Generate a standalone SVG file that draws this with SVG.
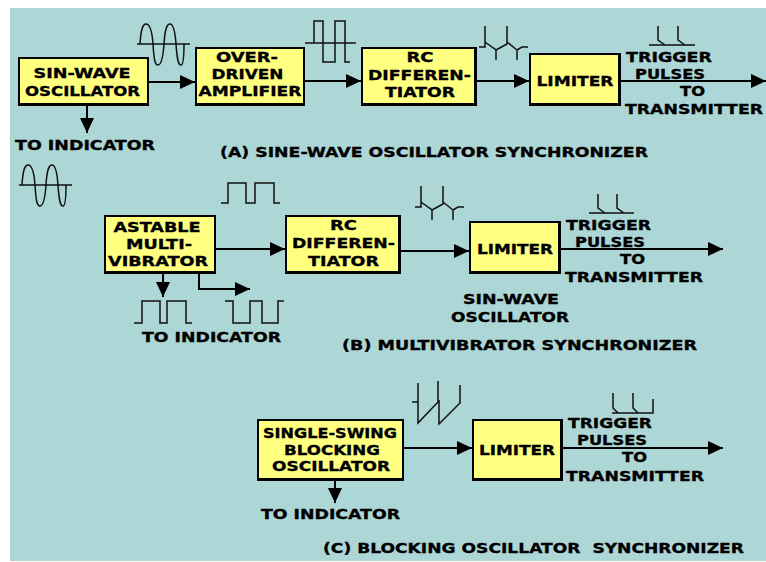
<svg xmlns="http://www.w3.org/2000/svg" width="766" height="562" viewBox="0 0 766 562">
<style>
.t{font-family:"DejaVu Sans","Liberation Sans",sans-serif;font-weight:bold;font-size:14.5px;fill:#000;stroke:#000;stroke-width:.35;text-anchor:middle;white-space:pre}
.b{fill:#ffff80;stroke:#000;stroke-width:2}
.s{fill:#000}
.w{fill:none;stroke:#111;stroke-width:1.5}
.c{fill:none;stroke:#000;stroke-width:2}
</style>
<defs>
<marker id="ah" markerUnits="userSpaceOnUse" markerWidth="16" markerHeight="14" refX="15" refY="7" orient="auto"><path d="M0 0L15 7L0 14Z" fill="#000"/></marker>
<g id="sine"><path class="w" d="M-26 0H27"/><path class="w" d="M-23 0C-22 -16 -20 -20 -17 -20C-13 -20 -11 -14 -10 0C-9 16 -8 21 -5 21C-2 21 0 14 1 0C2 -16 4 -20 7 -20C10 -20 12 -14 13 0C14 14 15 21 18 21C20 21 21 16 21 0"/></g>
<g id="spk"><path class="w" d="M479 47H485V26M485 42L496 50V60M496 50L507 44V26M507 42L517 50V60M517 50L522 47H528"/></g>
</defs>
<rect width="766" height="562" fill="#fff"/>
<rect x="10" y="8" width="756" height="553" fill="#add6d6"/>
<g id="connectors">
<path class="c" marker-end="url(#ah)" d="M149 82H195"/>
<path class="c" marker-end="url(#ah)" d="M305 81H361"/>
<path class="c" marker-end="url(#ah)" d="M476 81H529"/>
<path class="c" marker-end="url(#ah)" d="M620 81H766"/>
<path class="c" marker-end="url(#ah)" d="M87 105V133"/>
<path class="c" marker-end="url(#ah)" d="M216 249H285"/>
<path class="c" marker-end="url(#ah)" d="M400 251H469"/>
<path class="c" marker-end="url(#ah)" d="M558 249H723"/>
<path class="c" marker-end="url(#ah)" d="M163 274V297"/>
<path class="c" marker-end="url(#ah)" d="M199 274V289H250"/>
<path class="c" marker-end="url(#ah)" d="M403 448H472"/>
<path class="c" marker-end="url(#ah)" d="M562 448H723"/>
<path class="c" marker-end="url(#ah)" d="M335 480V503"/>
</g>
<g id="wave-a1"><use href="#sine" x="163" y="44"/></g>
<g id="wave-a2"><path class="w" d="M305 43H356M314 43V21H323V62H335V21H345V62H350"/></g>
<g id="wave-a3"><use href="#spk"/></g>
<g id="wave-a4"><path class="w" d="M649 45H695M658 26V40L665 45M678 26V40L685 45"/></g>
<g id="wave-b0"><use href="#sine" x="45" y="185"/></g>
<g id="wave-b1"><path class="w" d="M221 203H228V183H246V203H255V183H274V203H280"/></g>
<g id="wave-b2"><use href="#spk" x="-64" y="160"/></g>
<g id="wave-b3"><path class="w" d="M589 213H634M598 194V208L605 213M617 194V208L624 213"/></g>
<g id="wave-b4"><path class="w" d="M134 323H142V301H160V323H167V301H186V323H192"/></g>
<g id="wave-b5"><path class="w" d="M225 301H233V323H250V301H262V323H278V301H284"/></g>
<g id="wave-c1"><path class="w" d="M412 402H418V383M418 402V423L438 402V381M439 400V424L460 403V385"/></g>
<g id="wave-c2"><path class="w" d="M612 413H653V399M613 393V408L618 413M633 393V408L638 413"/></g>
<g id="n1"><rect class="b" x="19" y="58" width="129" height="46"/><path class="s" d="M18 103H149V106H18Z"/><text class="t" x="82" y="78" textLength="97" lengthAdjust="spacingAndGlyphs">SIN-WAVE</text><text class="t" x="82.500" y="96" textLength="115" lengthAdjust="spacingAndGlyphs">OSCILLATOR</text></g>
<g id="n2"><rect class="b" x="196" y="48" width="108" height="56"/><path class="s" d="M195 103H305V106H195Z"/><text class="t" x="247" y="62" textLength="62" lengthAdjust="spacingAndGlyphs">OVER-</text><text class="t" x="247.500" y="79" textLength="72" lengthAdjust="spacingAndGlyphs">DRIVEN</text><text class="t" x="250" y="96" textLength="103" lengthAdjust="spacingAndGlyphs">AMPLIFIER</text></g>
<g id="n3"><rect class="b" x="362" y="48" width="114" height="56"/><path class="s" d="M361 103H476V106H361ZM474 47H477V106H474Z"/><text class="t" x="420" y="62" textLength="27" lengthAdjust="spacingAndGlyphs">RC</text><text class="t" x="419.500" y="79.500" textLength="103" lengthAdjust="spacingAndGlyphs">DIFFEREN-</text><text class="t" x="420" y="97" textLength="70" lengthAdjust="spacingAndGlyphs">TIATOR</text></g>
<g id="n4"><rect class="b" x="530" y="54" width="89" height="50"/><path class="s" d="M529 103H620V106H529ZM618 53H621V106H618Z"/><text class="t" x="575" y="86" textLength="77" lengthAdjust="spacingAndGlyphs">LIMITER</text></g>
<g id="n5"><rect class="b" x="105" y="216" width="110" height="57"/><path class="s" d="M104 271H216V274H104Z"/><text class="t" x="157" y="232" textLength="87" lengthAdjust="spacingAndGlyphs">ASTABLE</text><text class="t" x="159" y="249" textLength="66" lengthAdjust="spacingAndGlyphs">MULTI-</text><text class="t" x="158" y="266" textLength="100" lengthAdjust="spacingAndGlyphs">VIBRATOR</text></g>
<g id="n6"><rect class="b" x="286" y="216" width="114" height="57"/><path class="s" d="M285 271H400V274H285ZM398 215H401V274H398Z"/><text class="t" x="343.500" y="230" textLength="27" lengthAdjust="spacingAndGlyphs">RC</text><text class="t" x="343.500" y="248" textLength="103" lengthAdjust="spacingAndGlyphs">DIFFEREN-</text><text class="t" x="343.500" y="266" textLength="71" lengthAdjust="spacingAndGlyphs">TIATOR</text></g>
<g id="n7"><rect class="b" x="470" y="222" width="89" height="51"/><path class="s" d="M469 271H560V274H469ZM558 221H561V274H558Z"/><text class="t" x="515" y="254" textLength="76" lengthAdjust="spacingAndGlyphs">LIMITER</text></g>
<g id="n8"><rect class="b" x="258" y="420" width="145" height="60"/><path class="s" d="M257 478H404V481H257Z"/><text class="t" x="330" y="438" textLength="134" lengthAdjust="spacingAndGlyphs">SINGLE-SWING</text><text class="t" x="332" y="454.500" textLength="96" lengthAdjust="spacingAndGlyphs">BLOCKING</text><text class="t" x="331" y="471" textLength="118" lengthAdjust="spacingAndGlyphs">OSCILLATOR</text></g>
<g id="n9"><rect class="b" x="473" y="420" width="89" height="60"/><path class="s" d="M472 478H563V481H472ZM560 419H563V481H560Z"/><text class="t" x="517" y="455" textLength="76" lengthAdjust="spacingAndGlyphs">LIMITER</text></g>
<g id="labels">
<text class="t" x="669" y="62" textLength="86" lengthAdjust="spacingAndGlyphs">TRIGGER</text><text class="t" x="670" y="78.500" textLength="70" lengthAdjust="spacingAndGlyphs">PULSES</text><text class="t" x="692.500" y="96" textLength="25" lengthAdjust="spacingAndGlyphs">TO</text><text class="t" x="694" y="114" textLength="138" lengthAdjust="spacingAndGlyphs">TRANSMITTER</text>
<text class="t" x="85" y="150" textLength="140" lengthAdjust="spacingAndGlyphs">TO INDICATOR</text>
<text class="t" x="434" y="157" textLength="428" lengthAdjust="spacingAndGlyphs">(A) SINE-WAVE OSCILLATOR SYNCHRONIZER</text>
<text class="t" x="608.500" y="230" textLength="85" lengthAdjust="spacingAndGlyphs">TRIGGER</text><text class="t" x="610" y="246.500" textLength="70" lengthAdjust="spacingAndGlyphs">PULSES</text><text class="t" x="632.500" y="264" textLength="25" lengthAdjust="spacingAndGlyphs">TO</text><text class="t" x="634" y="282" textLength="138" lengthAdjust="spacingAndGlyphs">TRANSMITTER</text>
<text class="t" x="511" y="304" textLength="96" lengthAdjust="spacingAndGlyphs">SIN-WAVE</text><text class="t" x="510" y="322" textLength="118" lengthAdjust="spacingAndGlyphs">OSCILLATOR</text>
<text class="t" x="211.500" y="342" textLength="139" lengthAdjust="spacingAndGlyphs">TO INDICATOR</text>
<text class="t" x="519.500" y="350" textLength="355" lengthAdjust="spacingAndGlyphs">(B) MULTIVIBRATOR SYNCHRONIZER</text>
<text class="t" x="610" y="428" textLength="84" lengthAdjust="spacingAndGlyphs">TRIGGER</text><text class="t" x="612" y="444.500" textLength="70" lengthAdjust="spacingAndGlyphs">PULSES</text><text class="t" x="634.500" y="462" textLength="25" lengthAdjust="spacingAndGlyphs">TO</text><text class="t" x="635" y="481" textLength="138" lengthAdjust="spacingAndGlyphs">TRANSMITTER</text>
<text class="t" x="330.500" y="519" textLength="139" lengthAdjust="spacingAndGlyphs">TO INDICATOR</text>
<text class="t" x="533.500" y="553" textLength="421" lengthAdjust="spacingAndGlyphs">(C) BLOCKING OSCILLATOR  SYNCHRONIZER</text>
</g>
</svg>
